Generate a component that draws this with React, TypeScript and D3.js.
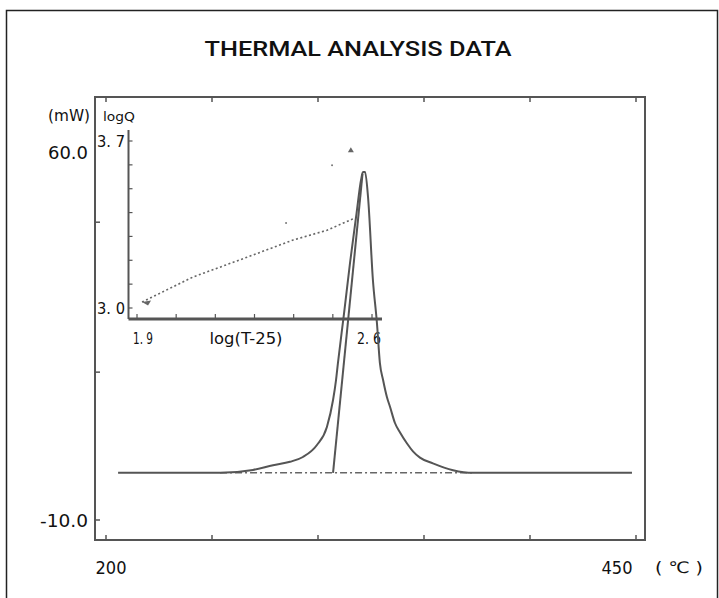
import React from 'react';
import * as d3 from 'd3';

// Main DSC curve (temperature °C, heat flow mW)
const tempC = [205.7, 253.8, 269.3, 278.8, 286.8, 292.9, 299.5, 304.2, 307.1, 308.5, 309.4, 312.3, 315.1, 318.2, 320.3, 321.2, 322.2, 323.6, 325.9, 327.8, 329.2, 330.7, 332.5, 334.0, 336.3, 338.7, 342.0, 344.8, 348.1, 354.2, 363.7, 373.1, 448.1];
const heatMW = [-1.0, -1.0, -0.46, 0.45, 1.1, 2.02, 4.3, 7.74, 12.89, 16.7, 19.94, 29.48, 39.02, 48.55, 54.85, 56.37, 56.37, 51.61, 35.78, 27.57, 19.94, 16.7, 13.46, 11.55, 8.5, 6.7, 4.6, 3.1, 1.9, 0.8, -0.5, -1.0, -1.0];

// Onset tangent line
const tangentT = [307.1, 321.0];
const tangentMW = [-1.0, 56.0];

// Baseline extrapolation under the peak
const baselineExtT = [253.8, 373.1];
const baselineMW = [-1.0, -1.0];

// Inset: log(T-25) vs logQ
const insetLogT = [1.915, 2.067, 2.228, 2.365, 2.466, 2.555];
const insetLogQ = [3.025, 3.13, 3.213, 3.285, 3.326, 3.381];
const strayLogT = [2.344, 2.481];
const strayLogQ = [3.356, 3.598];
const markerLogT = [2.537];
const markerLogQ = [3.661];

// Axis ticks / labels
const mainXTicks = [200, 250, 300, 350, 400, 450];
const mainYTicks = [-10, 18.2, 46.8];
const mainXLabels = ['200', '450'];
const mainYLabels = ['60.0', '-10.0'];
const insetYTicks = [3.0, 3.1, 3.2, 3.3, 3.4, 3.5, 3.6, 3.7];
const insetXTickCount = 6;

const GRAY = '#555';
const FONT = "'DejaVu Sans Condensed', 'DejaVu Sans', sans-serif";
const TITLE_FONT = "Roboto, 'DejaVu Sans Condensed', sans-serif";

export default function App() {
  const x = d3.scaleLinear().domain([200, 450]).range([106, 636]);
  const y = d3.scaleLinear().domain([-10, 60]).range([520, 153]);
  const ix = d3.scaleLinear().domain([1.9, 2.6]).range([137, 372]);
  const iy = d3.scaleLinear().domain([3.0, 3.7]).range([308, 141]);

  const mainPath = d3.line<number>().curve(d3.curveMonotoneX).x((d) => x(d)).y((_, i) => y(heatMW[i]))(tempC) || '';
  const tangentPath = d3.line<number>().x((d) => x(d)).y((_, i) => y(tangentMW[i]))(tangentT) || '';
  const basePath = d3.line<number>().x((d) => x(d)).y((_, i) => y(baselineMW[i]))(baselineExtT) || '';
  const insetPath = d3.line<number>().x((d) => ix(d)).y((_, i) => iy(insetLogQ[i]))(insetLogT) || '';

  const insetXTicks = d3.range(insetXTickCount + 1).map((k) => 1.9 + (0.7 * k) / insetXTickCount);

  const fL = 95, fT = 97, fR = 645, fB = 540;
  const iL = 128.5, iT = 130, iR = 382, iB = 319;

  const ax = ix(insetLogT[0]);
  const ay = iy(insetLogQ[0]);

  return (
    <svg width={719} height={598} style={{ position: 'absolute', left: 0, top: 0, background: '#fff' }}>
      <rect x={6.5} y={10.5} width={711} height={620} fill="none" stroke="#222" strokeWidth={1.5} />
      <text x={358} y={56} textAnchor="middle" fontFamily={TITLE_FONT} fontSize={21} fontWeight={500} textLength={307} lengthAdjust="spacingAndGlyphs" fill="#111">THERMAL ANALYSIS DATA</text>

      {/* main frame */}
      <rect x={fL} y={fT} width={fR - fL} height={fB - fT} fill="none" stroke={GRAY} strokeWidth={2} />
      {mainXTicks.map((t) => (
        <g key={'xt' + t}>
          <line x1={x(t)} x2={x(t)} y1={fB} y2={fB - 5} stroke={GRAY} strokeWidth={1.5} />
          <line x1={x(t)} x2={x(t)} y1={fT} y2={fT + 5} stroke={GRAY} strokeWidth={1.5} />
        </g>
      ))}
      {mainYTicks.map((t) => (
        <line key={'yt' + t} x1={fL} x2={fL + 5} y1={y(t)} y2={y(t)} stroke={GRAY} strokeWidth={1.5} />
      ))}

      {/* main labels */}
      <text x={90} y={121} textAnchor="end" fontFamily={FONT} fontSize={15} textLength={42} lengthAdjust="spacingAndGlyphs" fill="#111">(mW)</text>
      <text x={88} y={y(60) + 6} textAnchor="end" fontFamily={FONT} fontSize={17} textLength={40} lengthAdjust="spacingAndGlyphs" fill="#111">{mainYLabels[0]}</text>
      <text x={88} y={y(-10) + 7} textAnchor="end" fontFamily={FONT} fontSize={17} textLength={48} lengthAdjust="spacingAndGlyphs" fill="#111">{mainYLabels[1]}</text>
      <text x={x(200) + 5} y={574} textAnchor="middle" fontFamily={FONT} fontSize={17} textLength={31} lengthAdjust="spacingAndGlyphs" fill="#111">{mainXLabels[0]}</text>
      <text x={x(450) - 19} y={574} textAnchor="middle" fontFamily={FONT} fontSize={17} textLength={31} lengthAdjust="spacingAndGlyphs" fill="#111">{mainXLabels[1]}</text>
      <text x={655} y={573} fontFamily={FONT} fontSize={16} textLength={48} lengthAdjust="spacingAndGlyphs" fill="#111">( ℃ )</text>

      {/* baseline extrapolation */}
      <path d={basePath} fill="none" stroke="#666" strokeWidth={1.5} strokeDasharray="7,3,2,3" />

      {/* inset */}
      <line x1={iL} x2={iL} y1={iT} y2={iB} stroke={GRAY} strokeWidth={2} />
      <line x1={iL} x2={iR} y1={iB} y2={iB} stroke={GRAY} strokeWidth={3} />
      {insetYTicks.map((t) => (
        <line key={'iyt' + t} x1={iL} x2={iL + 4} y1={iy(t)} y2={iy(t)} stroke={GRAY} strokeWidth={1.2} />
      ))}
      {insetXTicks.map((t, k) => (
        <line key={'ixt' + k} x1={ix(t)} x2={ix(t)} y1={iB} y2={iB - 5} stroke={GRAY} strokeWidth={1.2} />
      ))}
      <text x={103} y={121} fontFamily={FONT} fontSize={13} textLength={32} lengthAdjust="spacingAndGlyphs" fill="#111">logQ</text>
      <text x={97} y={iy(3.7) + 6} fontFamily={FONT} fontSize={15} textLength={28} lengthAdjust="spacingAndGlyphs" fill="#111">3. 7</text>
      <text x={97} y={iy(3.0) + 6} fontFamily={FONT} fontSize={15} textLength={28} lengthAdjust="spacingAndGlyphs" fill="#111">3. 0</text>
      <text x={ix(1.9) + 6} y={344} textAnchor="middle" fontFamily={FONT} fontSize={15} textLength={20} lengthAdjust="spacingAndGlyphs" fill="#111">1. 9</text>
      <text x={246} y={344} textAnchor="middle" fontFamily={FONT} fontSize={15} textLength={73} lengthAdjust="spacingAndGlyphs" fill="#111">log(T-25)</text>
      <text x={ix(2.6) - 3} y={344} textAnchor="middle" fontFamily={FONT} fontSize={15} textLength={24} lengthAdjust="spacingAndGlyphs" fill="#111">2. 6</text>

      <path d={insetPath} fill="none" stroke="#666" strokeWidth={1.6} strokeDasharray="2,2.5" />
      <path d={`M${ax},${ay} l9,-1.5 l-3,5 z`} fill="#666" />
      {strayLogT.map((t, i) => (
        <circle key={'s' + i} cx={ix(t)} cy={iy(strayLogQ[i])} r={1} fill="#777" />
      ))}
      {markerLogT.map((t, i) => (
        <path key={'m' + i} d={`M${ix(t)},${iy(markerLogQ[i]) - 3} l3,5 l-6,0 z`} fill="#666" />
      ))}

      {/* main curve + tangent */}
      <path d={tangentPath} fill="none" stroke={GRAY} strokeWidth={2} />
      <path d={mainPath} fill="none" stroke={GRAY} strokeWidth={2} strokeLinejoin="round" />
    </svg>
  );
}
